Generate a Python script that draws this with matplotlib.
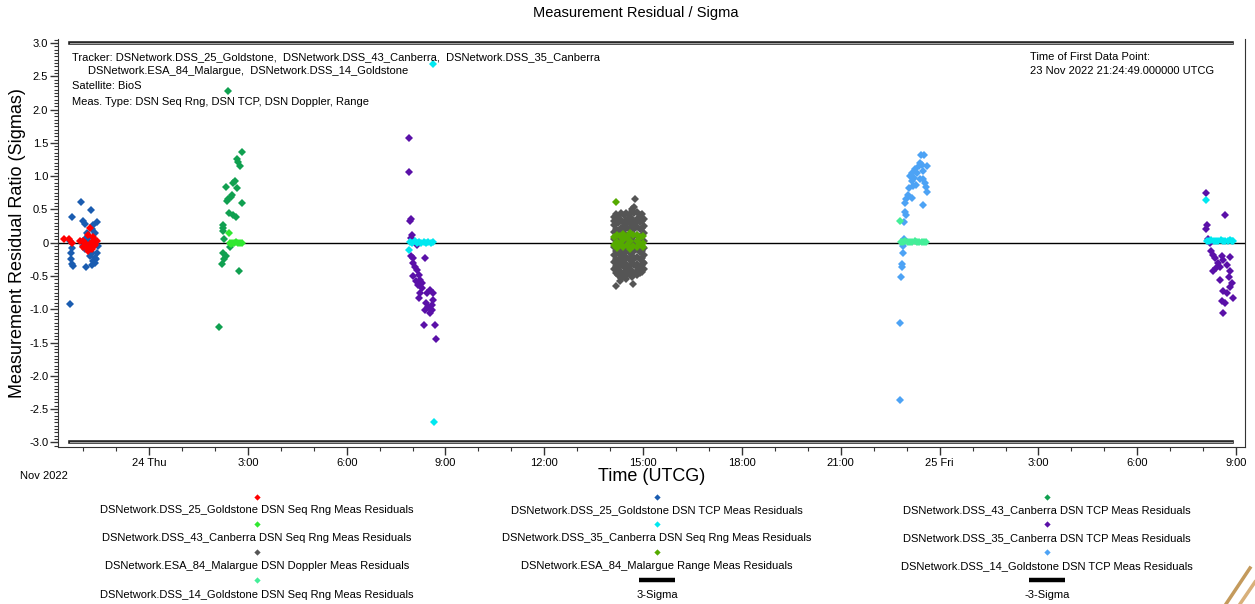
import matplotlib
matplotlib.use("Agg")
import matplotlib.pyplot as plt
from matplotlib.lines import Line2D
from matplotlib.ticker import FixedLocator, MultipleLocator, FuncFormatter

plt.rcParams['font.family'] = ['Liberation Sans', 'DejaVu Sans']

# time axis: hours relative to 24 Nov 2022 00:00 UTCG
sigma_start = -2.40
sigma_end = 32.88

# DSS_25 Goldstone pass
gs25_tcp_t = [-2.40, -2.35, -2.38, -2.38, -2.35, -2.32, -2.33, -2.40, -2.07, -1.99, -1.94, -1.99, -1.94,
              -1.91, -1.89, -1.84, -1.94, -1.81, -1.76, -1.74, -1.74, -1.74, -1.79, -1.69, -1.69, -1.64,
              -1.64, -1.61, -1.59, -1.59, -1.56, -1.60, -1.65]
gs25_tcp_v = [0.02, -0.08, -0.15, -0.24, -0.32, -0.35, 0.39, -0.92, 0.61, 0.32, 0.28, -0.05, -0.10,
              -0.37, 0.15, 0.07, 0.05, 0.01, 0.49, 0.21, -0.15, -0.33, -0.20, 0.27, -0.28, 0.15,
              -0.23, 0.02, 0.31, -0.15, -0.05, -0.25, -0.31]
gs25_rng_t = [-2.58, -2.42, -2.35, -2.08, -1.99, -1.94, -1.84, -1.79, -1.69, -1.99, -1.89, -1.84, -1.74,
              -1.64, -1.59, -1.70, -1.78]
gs25_rng_v = [0.05, 0.06, 0.00, 0.02, 0.02, -0.01, 0.12, 0.22, 0.09, -0.06, -0.08, -0.13, -0.10,
              -0.03, 0.02, 0.03, -0.02]

# DSS_43 Canberra pass
cb43_tcp_t = [2.39, 2.81, 2.66, 2.71, 2.76, 2.61, 2.56, 2.34, 2.66, 2.53, 2.48, 2.41, 2.36, 2.81,
              2.44, 2.56, 2.64, 2.26, 2.24, 2.24, 2.28, 2.46, 2.24, 2.34, 2.28, 2.21, 2.74, 2.13]
cb43_tcp_v = [2.28, 1.36, 1.26, 1.21, 1.15, 0.92, 0.89, 0.83, 0.82, 0.72, 0.69, 0.66, 0.62, 0.60,
              0.45, 0.41, 0.39, 0.26, 0.22, 0.17, 0.06, -0.06, -0.15, -0.20, -0.25, -0.32, -0.42, -1.26]
cb43_rng_t = [2.44, 2.46, 2.52, 2.58, 2.64, 2.70, 2.76, 2.82, 2.49]
cb43_rng_v = [0.15, 0.00, -0.01, 0.00, 0.01, 0.00, -0.01, 0.00, -0.02]

# DSS_35 Canberra, first pass
cb35a_tcp_t = [7.89, 7.89, 7.94, 7.92, 7.97, 7.95, 8.13, 7.94, 8.01, 8.02, 8.08, 8.38, 8.02, 8.15,
               8.21, 8.11, 8.23, 8.28, 8.18, 8.28, 8.23, 8.21, 8.53, 8.61, 8.63, 8.41, 8.48, 8.58,
               8.38, 8.58, 8.35, 8.68, 8.71, 8.53, 8.43]
cb35a_tcp_v = [1.57, 1.06, 0.36, 0.32, 0.12, 0.07, -0.03, -0.20, -0.23, -0.31, -0.36, -0.23, -0.50, -0.41,
               -0.48, -0.58, -0.56, -0.61, -0.63, -0.68, -0.76, -0.83, -0.71, -0.76, -0.86, -0.91, -0.96, -1.01,
               -1.01, -0.93, -1.23, -1.23, -1.45, -1.05, -0.76]
cb35a_rng_t = [7.89, 7.92, 7.99, 8.06, 8.13, 8.20, 8.27, 8.34, 8.41, 8.48, 8.55, 8.62, 8.66, 8.62]
cb35a_rng_v = [-0.11, 0.01, 0.00, 0.02, 0.00, 0.01, 0.00, 0.01, 0.00, 0.01, 0.00, 0.01, -2.69, 2.68]

# ESA_84 Malargue pass (doppler columns + range)
mlg_dop_cols = [14.10, 14.17, 14.25, 14.33, 14.41, 14.49, 14.57, 14.65, 14.73, 14.81, 14.89, 14.97, 15.03]
mlg_dop_rows = [
    [0.38, 0.27, 0.16, 0.05, -0.07, -0.18, -0.29, -0.40],
    [0.43, 0.32, 0.21, 0.10, -0.02, -0.13, -0.24, -0.35, -0.46],
    [0.40, 0.29, 0.18, 0.06, -0.05, -0.16, -0.27, -0.38, -0.49],
    [0.44, 0.33, 0.22, 0.11, 0.00, -0.11, -0.22, -0.33, -0.44, -0.53],
    [0.41, 0.30, 0.19, 0.08, -0.04, -0.15, -0.26, -0.37, -0.47],
    [0.45, 0.34, 0.23, 0.12, 0.01, -0.10, -0.21, -0.32, -0.43, -0.50],
    [0.42, 0.31, 0.20, 0.09, -0.03, -0.14, -0.25, -0.36, -0.46],
    [0.47, 0.36, 0.25, 0.13, 0.02, -0.09, -0.20, -0.31, -0.42, -0.51],
    [0.44, 0.32, 0.21, 0.10, -0.01, -0.12, -0.23, -0.34, -0.45],
    [0.46, 0.35, 0.24, 0.12, 0.01, -0.10, -0.21, -0.32, -0.43, -0.49],
    [0.42, 0.31, 0.20, 0.08, -0.03, -0.14, -0.25, -0.36, -0.46],
    [0.43, 0.33, 0.22, 0.11, -0.01, -0.12, -0.23, -0.34, -0.44],
    [0.36, 0.25, 0.14, 0.03, -0.08, -0.19, -0.30, -0.40],
]
mlg_dop_mid_t = [14.13, 14.21, 14.29, 14.37, 14.45, 14.53, 14.61, 14.69, 14.77, 14.85, 14.93, 15.00]
mlg_dop_mid_v = [0.33, -0.43, 0.36, -0.31, 0.27, -0.40, 0.38, -0.26, 0.30, -0.38, 0.35, -0.29]
mlg_dop_out_t = [14.75, 14.65, 14.17, 14.35, 14.68, 14.48, 14.72, 14.30]
mlg_dop_out_v = [0.66, 0.50, -0.65, -0.53, -0.62, -0.55, 0.54, -0.58]
mlg_rng_t = [14.17, 14.10, 14.10, 14.20, 14.20, 14.20, 14.30, 14.30, 14.40, 14.40, 14.40, 14.50, 14.50,
             14.60, 14.60, 14.60, 14.70, 14.70, 14.80, 14.80, 14.80, 14.90, 14.90, 15.00, 15.00, 15.00]
mlg_rng_v = [0.61, 0.08, -0.04, 0.12, 0.01, -0.08, 0.10, -0.02, 0.13, 0.04, -0.07, 0.09, -0.03,
             0.14, 0.02, -0.09, 0.11, -0.05, 0.12, 0.03, -0.06, 0.09, -0.02, 0.10, 0.00, -0.07]

# DSS_14 Goldstone pass
gs14_tcp_t = [23.43, 23.54, 23.41, 23.46, 23.36, 23.61, 23.25, 23.15, 23.31, 23.51, 23.10, 23.23, 23.39,
              23.49, 23.56, 23.15, 23.20, 23.29, 23.08, 23.59, 23.05, 23.61, 23.15, 22.98, 22.95, 23.51,
              22.95, 22.98, 22.92, 22.92, 22.90, 22.90, 22.85, 22.85, 22.83, 22.80, 22.80]
gs14_tcp_v = [1.32, 1.32, 1.20, 1.17, 1.15, 1.15, 1.10, 1.05, 1.05, 1.07, 1.00, 0.97, 0.96,
              0.95, 0.90, 0.92, 0.85, 0.87, 0.82, 0.84, 0.72, 0.76, 0.67, 0.65, 0.60, 0.56,
              0.46, 0.41, 0.31, 0.06, -0.05, -0.15, -0.32, -0.36, -0.51, -1.20, -2.37]
gs14_rng_t = [22.80, 22.82, 22.89, 22.96, 23.03, 23.10, 23.17, 23.24, 23.31, 23.38, 23.45, 23.52, 23.59]
gs14_rng_v = [0.33, 0.01, 0.01, 0.02, 0.01, 0.01, 0.01, 0.02, 0.01, 0.01, 0.01, 0.01, 0.01]

# DSS_35 Canberra, second pass
cb35b_tcp_t = [32.09, 32.67, 32.13, 32.09, 32.16, 32.21, 32.23, 32.31, 32.36, 32.56, 32.61, 32.82, 32.46,
               32.72, 32.39, 32.51, 32.31, 32.82, 32.77, 32.87, 32.80, 32.61, 32.72, 32.56, 32.90, 32.67,
               32.61, 32.51]
cb35b_tcp_v = [0.74, 0.41, 0.27, 0.21, 0.05, 0.00, -0.13, -0.18, -0.23, -0.20, -0.26, -0.22, -0.31,
               -0.33, -0.38, -0.37, -0.42, -0.43, -0.51, -0.61, -0.66, -0.73, -0.76, -0.88, -0.83, -0.91,
               -1.05, -0.56]
cb35b_rng_t = [32.09, 32.11, 32.18, 32.25, 32.32, 32.39, 32.46, 32.53, 32.60, 32.67, 32.74, 32.81, 32.88, 32.92]
cb35b_rng_v = [0.64, 0.03, 0.03, 0.04, 0.03, 0.03, 0.03, 0.04, 0.03, 0.03, 0.03, 0.04, 0.03, 0.03]

col_red = '#ff0000'
col_gs25 = '#1a5cb0'
col_cb43 = '#10a050'
col_cb43_rng = '#30e830'
col_cb35_rng = '#00e8f0'
col_cb35 = '#5a10a8'
col_dop = '#555555'
col_mlg_rng = '#55aa00'
col_gs14 = '#4da3f5'
col_gs14_rng = '#44ee99'

legend_labels = [
    'DSNetwork.DSS_25_Goldstone DSN Seq Rng Meas Residuals',
    'DSNetwork.DSS_25_Goldstone DSN TCP Meas Residuals',
    'DSNetwork.DSS_43_Canberra DSN TCP Meas Residuals',
    'DSNetwork.DSS_43_Canberra DSN Seq Rng Meas Residuals',
    'DSNetwork.DSS_35_Canberra DSN Seq Rng Meas Residuals',
    'DSNetwork.DSS_35_Canberra DSN TCP Meas Residuals',
    'DSNetwork.ESA_84_Malargue DSN Doppler Meas Residuals',
    'DSNetwork.ESA_84_Malargue Range Meas Residuals',
    'DSNetwork.DSS_14_Goldstone DSN TCP Meas Residuals',
    'DSNetwork.DSS_14_Goldstone DSN Seq Rng Meas Residuals',
    '3-Sigma',
    '-3-Sigma',
]
legend_colors = [col_red, col_gs25, col_cb43, col_cb43_rng, col_cb35_rng, col_cb35,
                 col_dop, col_mlg_rng, col_gs14, col_gs14_rng, 'black', 'black']

x_ticks = [0, 3, 6, 9, 12, 15, 18, 21, 24, 27, 30, 33]
x_tick_labels = ['24 Thu', '3:00', '6:00', '9:00', '12:00', '15:00', '18:00', '21:00',
                 '25 Fri', '3:00', '6:00', '9:00']

W, H = 1255, 604
fig = plt.figure(figsize=(W / 100, H / 100), dpi=100)
ax = fig.add_axes([58 / W, 1 - 447 / H, (1245 - 58) / W, (447 - 39) / H])

mk = dict(marker='D', ms=4.0, mew=0, ls='none')


def pts(t, v, c):
    ax.plot(t, v, color=c, **mk)


# zero line and +/- 3 sigma bounds
ax.axhline(0, color='black', lw=1.0, zorder=1)
for lvl in (3, -3):
    ax.plot([sigma_start, sigma_end], [lvl, lvl], color='#222222', lw=2.6, zorder=1)
    ax.plot([sigma_start, sigma_end], [lvl, lvl], color='#a0a0a0', lw=0.8, zorder=1)

pts(gs25_tcp_t, gs25_tcp_v, col_gs25)
pts(gs25_rng_t, gs25_rng_v, col_red)
pts(cb43_tcp_t, cb43_tcp_v, col_cb43)
pts(cb43_rng_t, cb43_rng_v, col_cb43_rng)
pts(cb35a_tcp_t, cb35a_tcp_v, col_cb35)
pts(cb35a_rng_t, cb35a_rng_v, col_cb35_rng)
dop_t = [c for c, r in zip(mlg_dop_cols, mlg_dop_rows) for _ in r] + mlg_dop_mid_t + mlg_dop_out_t
dop_v = [v for r in mlg_dop_rows for v in r] + mlg_dop_mid_v + mlg_dop_out_v
pts(dop_t, dop_v, col_dop)
pts(mlg_rng_t, mlg_rng_v, col_mlg_rng)
pts(gs14_tcp_t, gs14_tcp_v, col_gs14)
pts(gs14_rng_t, gs14_rng_v, col_gs14_rng)
pts(cb35b_tcp_t, cb35b_tcp_v, col_cb35)
pts(cb35b_rng_t, cb35b_rng_v, col_cb35_rng)

ax.set_xlim(-2.763, 33.27)
ax.set_ylim(-3.07, 3.06)

ax.xaxis.set_major_locator(FixedLocator(x_ticks))
ax.set_xticklabels(x_tick_labels)
ax.xaxis.set_minor_locator(MultipleLocator(1))
ax.yaxis.set_major_locator(MultipleLocator(0.5))
ax.yaxis.set_minor_locator(MultipleLocator(0.05))
ax.yaxis.set_major_formatter(FuncFormatter(lambda v, p: '0' if abs(v) < 1e-9 else f'{v:.1f}'))
ax.tick_params(axis='both', which='major', labelsize=8, length=6, width=1, colors='#333333', labelcolor='black')
ax.tick_params(axis='both', which='minor', length=3, width=0.8, colors='#333333')
ax.tick_params(axis='x', which='major', pad=2)
ax.tick_params(axis='y', which='major', pad=1)
ax.spines['top'].set_visible(False)
for s in ['left', 'bottom', 'right']:
    ax.spines[s].set_color('#333333')

ax.set_xlabel('Time (UTCG)', fontsize=13, labelpad=0)
ax.set_ylabel('Measurement Residual Ratio (Sigmas)', fontsize=13, labelpad=2)

fig.text(636 / W, 1 - 13 / H, 'Measurement Residual / Sigma', ha='center', va='center', fontsize=10.5)
fig.text(44 / W, 1 - 476 / H, 'Nov 2022', ha='center', va='center', fontsize=8)

info = dict(ha='left', va='center', fontsize=8)
fig.text(72 / W, 1 - 57 / H,
         'Tracker: DSNetwork.DSS_25_Goldstone,  DSNetwork.DSS_43_Canberra,  DSNetwork.DSS_35_Canberra', **info)
fig.text(88 / W, 1 - 71 / H, 'DSNetwork.ESA_84_Malargue,  DSNetwork.DSS_14_Goldstone', **info)
fig.text(72 / W, 1 - 86 / H, 'Satellite: BioS', **info)
fig.text(72 / W, 1 - 102 / H, 'Meas. Type: DSN Seq Rng, DSN TCP, DSN Doppler, Range', **info)
fig.text(1030 / W, 1 - 57 / H, 'Time of First Data Point:', **info)
fig.text(1030 / W, 1 - 71 / H, '23 Nov 2022 21:24:49.000000 UTCG', **info)

# legend: three columns, symbol above each label
col_x = [257, 657, 1047]
mark_y = [497, 524, 552, 580]
text_y = [510, 538, 566, 595]
for i, (lab, c) in enumerate(zip(legend_labels, legend_colors)):
    r, k = divmod(i, 3)
    x = col_x[k] / W
    if 'Sigma' in lab:
        fig.add_artist(Line2D([x - 18 / W, x + 18 / W], [1 - mark_y[r] / H] * 2,
                              transform=fig.transFigure, color=c, lw=3.2, solid_capstyle='butt'))
    else:
        fig.add_artist(Line2D([x], [1 - mark_y[r] / H], transform=fig.transFigure,
                              color=c, marker='D', ms=3.2, mew=0, ls='none'))
    fig.text(x, 1 - text_y[r] / H, lab, ha='center', va='center', fontsize=8)

# corner logo strokes
fig.add_artist(Line2D([1226 / W, 1250 / W], [0.0, 1 - 568 / H], transform=fig.transFigure,
                      color='#c49a5c', lw=2.5))
fig.add_artist(Line2D([1240 / W, 1255 / W], [0.0, 1 - 582 / H], transform=fig.transFigure,
                      color='#d8b07a', lw=2.5))

fig.savefig('out.png', dpi=100)
